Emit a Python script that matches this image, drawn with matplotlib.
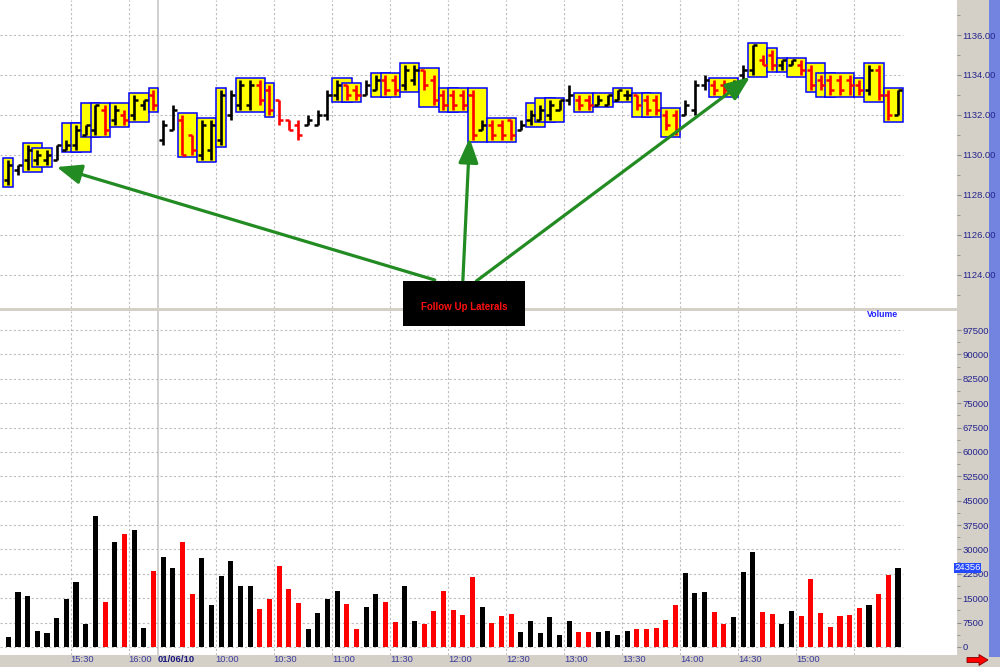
import numpy as np
import matplotlib.pyplot as plt
from matplotlib.patches import Rectangle, Polygon
from matplotlib.transforms import blended_transform_factory
from matplotlib.ticker import FormatStrFormatter

plt.rcParams['font.family'] = ['Liberation Sans', 'DejaVu Sans']

# 5 minute bars, 01/05 14:55 -> 01/06 15:50
opens = [1128.75, 1129.25, 1129.75, 1129.75, 1129.75, 1129.75, 1130.25, 1130.5, 1131.0, 1131.25,
         1132.25, 1131.75, 1132.0, 1132.0, 1132.5, 1133.0, 1130.75, 1131.25, 1131.75, 1131.0,
         1130.0, 1130.25, 1130.75, 1132.0, 1132.5, 1132.5, 1133.5, 1133.25, 1132.75, 1131.75,
         1131.5, 1131.5, 1131.5, 1132.0, 1133.0, 1133.5, 1133.25, 1133.0, 1133.25, 1133.75,
         1133.75, 1133.5, 1133.75, 1134.25, 1133.75, 1133.0, 1133.0, 1133.0, 1133.0, 1131.25,
         1131.5, 1131.5, 1131.75, 1131.25, 1131.75, 1131.75, 1132.0, 1132.25, 1132.75, 1132.75,
         1132.75, 1132.5, 1132.5, 1132.75, 1133.0, 1133.0, 1132.75, 1132.75, 1132.0, 1132.0,
         1132.0, 1132.25, 1133.5, 1133.5, 1133.5, 1133.25, 1134.0, 1134.25, 1134.75, 1135.0,
         1134.5, 1134.5, 1134.5, 1134.25, 1133.75, 1133.75, 1133.75, 1133.75, 1133.5, 1133.25,
         1134.25, 1133.0, 1132.0]
highs = [1129.75, 1129.5, 1130.5, 1130.25, 1130.25, 1130.5, 1130.75, 1131.5, 1131.5, 1132.5,
         1132.5, 1132.5, 1132.25, 1133.0, 1132.75, 1133.25, 1131.75, 1132.5, 1132.0, 1131.0,
         1131.75, 1131.75, 1133.25, 1133.25, 1133.75, 1133.75, 1133.75, 1133.5, 1132.75, 1131.75,
         1131.75, 1132.0, 1132.25, 1133.25, 1133.75, 1133.5, 1133.5, 1133.75, 1134.0, 1134.0,
         1134.0, 1134.5, 1134.5, 1134.25, 1134.0, 1133.25, 1133.25, 1133.25, 1133.25, 1131.75,
         1131.75, 1131.75, 1131.75, 1131.75, 1132.25, 1132.5, 1132.75, 1132.75, 1133.5, 1133.0,
         1133.0, 1133.0, 1133.0, 1133.25, 1133.25, 1133.0, 1133.0, 1133.0, 1132.25, 1132.25,
         1132.75, 1133.75, 1134.0, 1133.75, 1133.75, 1133.75, 1134.5, 1135.5, 1135.0, 1135.25,
         1134.75, 1134.75, 1134.75, 1134.5, 1134.0, 1134.0, 1134.0, 1134.0, 1133.75, 1134.5,
         1134.5, 1133.25, 1133.25]
lows = [1128.5, 1129.0, 1129.25, 1129.5, 1129.5, 1129.75, 1130.25, 1130.25, 1131.0, 1131.0,
        1131.0, 1131.5, 1131.5, 1131.75, 1132.25, 1132.25, 1130.5, 1131.25, 1130.0, 1130.0,
        1129.75, 1129.75, 1130.5, 1131.75, 1132.25, 1132.25, 1132.5, 1132.0, 1131.5, 1131.25,
        1130.75, 1131.5, 1131.5, 1131.75, 1132.75, 1132.75, 1132.75, 1133.0, 1133.25, 1133.0,
        1133.0, 1133.25, 1133.5, 1133.25, 1132.5, 1132.25, 1132.25, 1132.25, 1130.75, 1131.25,
        1130.75, 1130.75, 1130.75, 1131.25, 1131.5, 1131.75, 1131.75, 1132.25, 1132.5, 1132.25,
        1132.25, 1132.5, 1132.5, 1132.75, 1132.75, 1132.25, 1132.0, 1132.0, 1131.25, 1131.0,
        1132.0, 1132.0, 1133.25, 1133.0, 1133.0, 1133.0, 1133.75, 1134.0, 1134.5, 1134.25,
        1134.25, 1134.5, 1134.0, 1133.25, 1133.25, 1133.0, 1133.0, 1133.0, 1133.0, 1133.0,
        1132.75, 1131.75, 1132.0]
closes = [1129.5, 1129.5, 1130.25, 1130.0, 1130.0, 1130.5, 1130.5, 1131.25, 1131.5, 1132.5,
          1131.25, 1132.25, 1131.75, 1132.75, 1132.75, 1132.5, 1131.5, 1132.25, 1130.0, 1130.25,
          1131.5, 1131.5, 1133.0, 1133.0, 1133.5, 1133.5, 1132.75, 1132.25, 1131.75, 1131.25,
          1131.0, 1131.75, 1132.0, 1133.0, 1133.5, 1133.0, 1133.0, 1133.5, 1133.75, 1133.25,
          1133.25, 1134.25, 1134.25, 1133.5, 1132.75, 1132.5, 1132.5, 1132.5, 1131.0, 1131.5,
          1131.0, 1131.0, 1131.0, 1131.5, 1132.0, 1132.25, 1132.5, 1132.75, 1133.0, 1132.5,
          1132.5, 1132.75, 1133.0, 1133.25, 1133.0, 1132.5, 1132.25, 1132.25, 1131.5, 1131.25,
          1132.5, 1133.5, 1133.75, 1133.25, 1133.25, 1133.5, 1134.25, 1135.5, 1134.5, 1134.5,
          1134.75, 1134.75, 1134.25, 1133.5, 1133.5, 1133.25, 1133.25, 1133.5, 1133.25, 1134.25,
          1133.0, 1132.0, 1133.25]
volumes = [3200, 16800, 15700, 4900, 4400, 9000, 14800, 20100, 7000, 40200,
           13800, 32300, 34900, 36000, 5800, 23500, 27800, 24300, 32400, 16300,
           27300, 12900, 21800, 26500, 18700, 18700, 11600, 14900, 25000, 17900,
           13600, 5400, 10500, 14900, 17300, 13100, 5600, 12300, 16300, 13800,
           7700, 18700, 7900, 7000, 11100, 17300, 11400, 9900, 21400, 12400,
           7400, 9500, 10200, 4500, 8100, 4300, 9200, 3600, 8100, 4700,
           4500, 4700, 4900, 3800, 4900, 5600, 5600, 5900, 8400, 12900,
           22800, 16600, 16800, 10900, 7000, 9200, 23100, 29200, 10900, 10200,
           7000, 11100, 9500, 20900, 10500, 6200, 9500, 9900, 12000, 12900,
           16300, 22100, 24356]

# lateral (inside bar) groups: first and last bar of each box
lateral_start = [0, 2, 3, 6, 7, 8, 9, 11, 13, 15, 18, 20, 22, 24, 27, 34, 35, 38, 39, 41, 43,
                 45, 46, 48, 50, 54, 55, 56, 59, 61, 63, 65, 66, 68, 73, 77, 79, 80, 81, 83,
                 84, 85, 88, 89, 91]
lateral_end = [0, 3, 4, 7, 8, 9, 10, 12, 14, 15, 19, 21, 22, 26, 27, 35, 36, 39, 40, 42, 44,
               46, 47, 49, 52, 55, 56, 57, 60, 62, 64, 66, 67, 69, 75, 78, 79, 80, 82, 84,
               85, 87, 88, 90, 92]

tick_labels = ['15:30', '16:00', '01/06/10', '10:00', '10:30', '11:00', '11:30', '12:00',
               '12:30', '13:00', '13:30', '14:00', '14:30', '15:00', '']
tick_bars = [7, 13, 16, 22, 28, 34, 40, 46, 52, 58, 64, 70, 76, 82, 88]

o = np.array(opens)
h = np.array(highs)
l = np.array(lows)
c = np.array(closes)
n = len(o)
x = np.arange(n)
colors = np.where(c >= o, 'black', 'red')

W, H = 1000, 667
fig = plt.figure(figsize=(10, 6.67), dpi=100, facecolor='#d4d0c8')
ax_p = fig.add_axes([0, 1 - 308 / H, 957 / W, 308 / H])
ax_v = fig.add_axes([0, 1 - 655 / H, 957 / W, (655 - 311) / H])

xlim = (-0.86, 98.1)
grid_end = n - 0.5
grid_kw = dict(color='#bdbdbd', lw=0.8, ls=(0, (2, 2)), zorder=0)

for ax in (ax_p, ax_v):
    ax.set_xlim(*xlim)
    ax.set_xticks([])
    for s in ax.spines.values():
        s.set_visible(False)
    for b in tick_bars:
        if b == 16:
            ax.axvline(b - 0.5, color='#c8c8c8', lw=1.2, zorder=0)
        else:
            ax.axvline(b - 0.5, **grid_kw)
    ax.yaxis.tick_right()
    ax.tick_params(axis='y', which='both', direction='out', color='#8c8c8c',
                   labelsize=6.8, labelcolor='#24248c', pad=1)
    ax.tick_params(axis='y', which='major', length=3)
    ax.tick_params(axis='y', which='minor', length=2)

# price panel
ax_p.set_ylim(1137.75 - 308 / 20, 1137.75)
price_ticks = np.arange(1124, 1137, 2)
ax_p.set_yticks(price_ticks)
ax_p.set_yticks(np.arange(1123, 1138, 1), minor=True)
ax_p.yaxis.set_major_formatter(FormatStrFormatter('%.2f'))
ax_p.hlines(price_ticks, xlim[0], grid_end, **grid_kw)

for s, e in zip(lateral_start, lateral_end):
    top = h[s:e + 1].max()
    bot = l[s:e + 1].min()
    ax_p.add_patch(Rectangle((s - 0.5, bot - 0.08), e - s + 1, top - bot + 0.16,
                             facecolor='#ffff00', edgecolor='#0000ff', lw=1.1, zorder=2))

ax_p.vlines(x, l, h, colors=colors, lw=1.9, zorder=3)
ax_p.hlines(o, x - 0.42, x, colors=colors, lw=1.8, zorder=3)
ax_p.hlines(c, x, x + 0.42, colors=colors, lw=1.8, zorder=3)

arrow_kw = dict(arrowstyle='-|>,head_length=1.0,head_width=0.4', color='#228b22',
                lw=2.3, mutation_scale=15, shrinkA=0, shrinkB=0)
for head, tail in [((5.0, 1129.4), (44.1, 1123.75)),
                   ((47.7, 1130.85), (47.0, 1123.7)),
                   ((76.7, 1133.9), (48.4, 1123.7))]:
    ax_p.annotate('', xy=head, xytext=tail, arrowprops=arrow_kw, zorder=5)

# volume panel
ax_v.set_ylim(-(655 - 647) * 7500 / 24.38, (647 - 311) * 7500 / 24.38)
vol_ticks = np.arange(0, 97501, 7500)
ax_v.set_yticks(vol_ticks)
ax_v.set_yticks(vol_ticks[:-1] + 3750, minor=True)
ax_v.yaxis.set_major_formatter(FormatStrFormatter('%d'))
ax_v.hlines(vol_ticks, xlim[0], grid_end, **grid_kw)
ax_v.bar(x, volumes, width=0.52, color=colors, zorder=3)

ax_v.text(954 / 957, volumes[-1], str(volumes[-1]), transform=blended_transform_factory(ax_v.transAxes, ax_v.transData),
          ha='left', va='center', fontsize=6.8, color='white', zorder=10, clip_on=False,
          bbox=dict(boxstyle='square,pad=0.05', fc='#2448ff', ec='none'))

trans = blended_transform_factory(ax_v.transData, ax_v.transAxes)
for b, lab in zip(tick_bars, tick_labels):
    bold = lab.count('/') > 0
    ax_v.text(b - 0.55, -4.5 / 344, lab, transform=trans, ha='left', va='center',
              fontsize=6.8, color='#1a1a80' if bold else '#3c3c9c',
              fontweight='bold' if bold else 'normal', clip_on=False)

fig.text(867 / W, 1 - 314.5 / H, 'Volume', ha='left', va='center', fontsize=6.3,
         fontweight='bold', color='#2020ff')

# right blue strip and scroll arrow
fig.add_artist(Rectangle((989 / W, 1 - 657 / H), 11 / W, 657 / H, transform=fig.transFigure,
                         facecolor='#7284e0', edgecolor='none', zorder=-1))
arrow_px = [(967, 657.5), (979, 657.5), (979, 654.5), (988, 660), (979, 665.5), (979, 662.5), (967, 662.5)]
fig.add_artist(Polygon([(px / W, 1 - py / H) for px, py in arrow_px], closed=True,
                       transform=fig.transFigure, facecolor='#ff0000', edgecolor='#800000', lw=0.6, zorder=4))

# annotation box
fig.add_artist(Rectangle((403 / W, 1 - 326 / H), 122 / W, 45 / H, transform=fig.transFigure,
                         facecolor='black', edgecolor='none', zorder=5))
fig.text(464 / W, 1 - 306.5 / H, 'Follow Up Laterals', ha='center', va='center', fontsize=7,
         fontweight='bold', color='#ff1010', zorder=6)

fig.savefig('out.png', dpi=100, facecolor=fig.get_facecolor())
